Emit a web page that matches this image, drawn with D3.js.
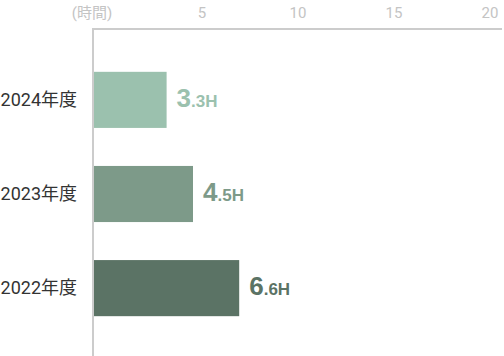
<!DOCTYPE html>
<html>
<head>
<meta charset="utf-8">
<script src="https://cdn.jsdelivr.net/npm/d3@7"></script>
<style>
  body { margin: 0; background: #fff; }
  svg { display: block; }
</style>
</head>
<body>
<div id="chart"></div>
<script>
// data
const years = ['2024年度', '2023年度', '2022年度'];
const hours = [3.3, 4.5, 6.6];
const barColors = ['#9bc1ae', '#7d9a89', '#5b7365'];
const tickValues = [5, 10, 15, 20];
const unitLabel = '(時間)';

const width = 504, height = 356;
const axisX = 93, axisTop = 29;

const svg = d3.select('#chart').append('svg')
    .attr('width', width)
    .attr('height', height);

// bar scale (approx 22px per hour)
const x = d3.scaleLinear().domain([0, 20]).range([axisX + 1, axisX + 1 + 440]);
// tick labels sit on their own spacing in the original
const xTicks = d3.scaleLinear().domain([5, 20]).range([202, 490]);

const y = d3.scaleBand()
    .domain(years)
    .range([53, 335])
    .paddingInner(0.404)
    .paddingOuter(0.2);

// axis lines
svg.append('line')
    .attr('x1', axisX).attr('x2', 502)
    .attr('y1', axisTop).attr('y2', axisTop)
    .attr('stroke', '#cccccc').attr('stroke-width', 2);
svg.append('line')
    .attr('x1', axisX).attr('x2', axisX)
    .attr('y1', axisTop - 1).attr('y2', height)
    .attr('stroke', '#cccccc').attr('stroke-width', 2);

// top tick labels
const tickFont = "Roboto, 'Noto Sans CJK JP', sans-serif";
svg.append('text')
    .attr('x', axisX - 1).attr('y', 18)
    .attr('text-anchor', 'middle')
    .attr('font-family', tickFont)
    .attr('font-size', 15)
    .attr('fill', '#c4c4c4')
    .text(unitLabel);
svg.selectAll('.tick-label')
    .data(tickValues)
    .join('text')
    .attr('class', 'tick-label')
    .attr('x', d => xTicks(d))
    .attr('y', 18)
    .attr('text-anchor', 'middle')
    .attr('font-family', tickFont)
    .attr('font-size', 15)
    .attr('fill', '#c4c4c4')
    .text(d => d);

// category labels
svg.selectAll('.year-label')
    .data(years)
    .join('text')
    .attr('class', 'year-label')
    .attr('x', 77)
    .attr('y', d => y(d) + y.bandwidth() / 2 + 6)
    .attr('text-anchor', 'end')
    .attr('font-family', "Roboto, 'Noto Sans CJK JP', sans-serif")
    .attr('font-size', 18)
    .attr('fill', '#333333')
    .text(d => d);

// bars
svg.selectAll('.bar')
    .data(hours)
    .join('rect')
    .attr('class', 'bar')
    .attr('x', x(0))
    .attr('y', (d, i) => y(years[i]))
    .attr('width', d => x(d) - x(0))
    .attr('height', y.bandwidth())
    .attr('fill', (d, i) => barColors[i]);

// value labels: big integer part, small decimal + H
const valueLabels = svg.selectAll('.value-label')
    .data(hours)
    .join('text')
    .attr('class', 'value-label')
    .attr('x', d => x(d) + 10)
    .attr('y', (d, i) => y(years[i]) + y.bandwidth() / 2 + 7)
    .attr('font-family', "'Liberation Sans', Arial, sans-serif")
    .attr('font-weight', 'bold')
    .attr('fill', (d, i) => barColors[i]);

valueLabels.append('tspan')
    .attr('font-size', 26)
    .text(d => Math.floor(d));
valueLabels.append('tspan')
    .attr('font-size', 17)
    .text(d => '.' + Math.round((d % 1) * 10) + 'H');
</script>
</body>
</html>
